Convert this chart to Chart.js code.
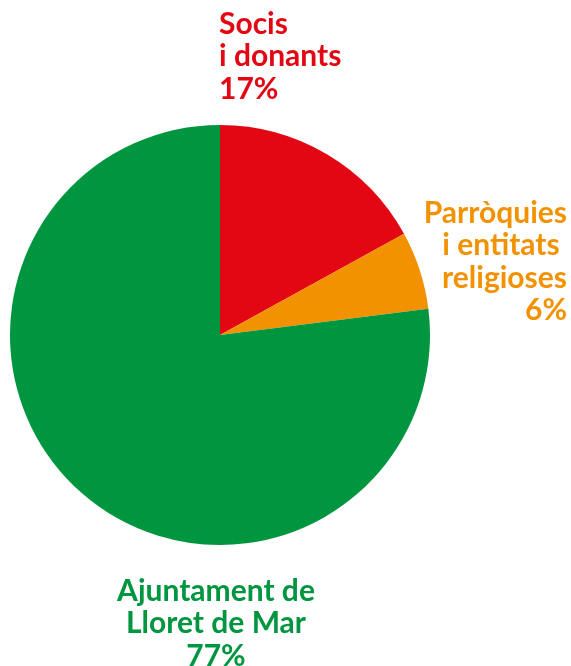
<!DOCTYPE html>
<html><head><meta charset="utf-8">
<script src="https://cdn.jsdelivr.net/npm/chart.js@4"></script>
<style>html,body{margin:0;padding:0;background:#fff;}canvas{display:block;}</style>
</head><body>
<canvas id="c" width="571" height="666"></canvas>
<script>
const categories = ["Socis i donants", "Parròquies i entitats religioses", "Ajuntament de Lloret de Mar"];
const values = [17, 6, 77];
const colors = ["#E30613", "#F39200", "#009640"];
const labelLines = [["Socis", "i donants", "17%"], ["Parròquies", "i entitats ", "religioses", "6%"], ["Ajuntament de", "Lloret de Mar", "77%"]];

const labelPlugin = {
  id: 'labels',
  afterDraw(chart) {
    const ctx = chart.ctx;
    ctx.save();
    ctx.font = "bold 30px Lato";
    ctx.textBaseline = "middle";
    const specs = [
      {x: 219, y: 24, align: "left"},
      {x: 567, y: 213, align: "right"},
      {x: 216, y: 591, align: "center"}
    ];
    specs.forEach((s, i) => {
      ctx.fillStyle = colors[i];
      ctx.textAlign = s.align;
      labelLines[i].forEach((t, j) => ctx.fillText(t, s.x, s.y + j * 32.5));
    });
    ctx.restore();
  }
};

new Chart(document.getElementById('c'), {
  type: 'pie',
  data: { labels: categories, datasets: [{ data: values, backgroundColor: colors, borderWidth: 0 }] },
  options: {
    responsive: false, animation: false,
    layout: { padding: { left: 10, right: 141, top: 125, bottom: 121 } },
    plugins: { legend: { display: false }, tooltip: { enabled: false } }
  },
  plugins: [labelPlugin]
});
</script>
</body></html>
